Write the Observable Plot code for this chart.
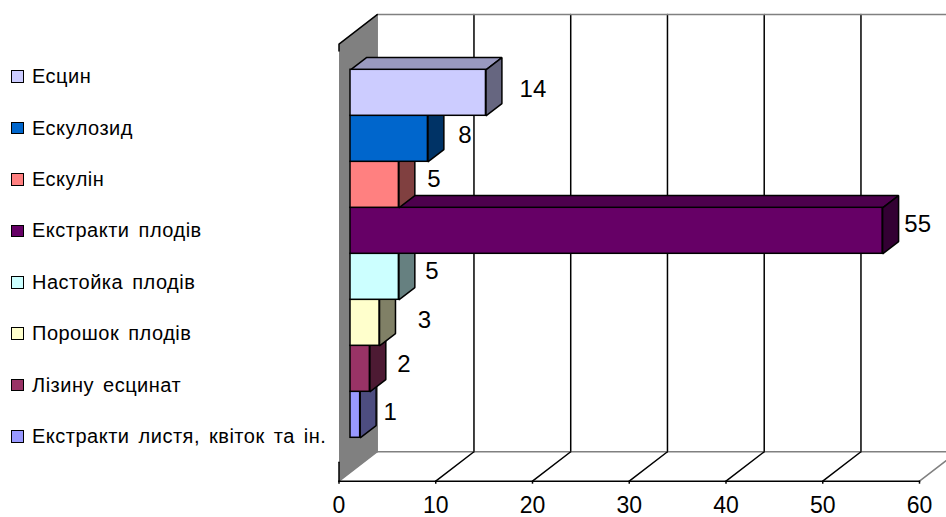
<!DOCTYPE html>
<html lang="uk">
<head>
<meta charset="utf-8">
<script src="https://cdn.jsdelivr.net/npm/d3@7"></script>
<script src="https://cdn.jsdelivr.net/npm/@observablehq/plot@0.6"></script>
<style>
  html, body { margin: 0; padding: 0; background: #fff; overflow: hidden; }
  #chart { position: relative; width: 946px; height: 517px; }
  #legend { position: absolute; left: 11px; top: 51px; font: 20px "Liberation Sans", Arial, sans-serif; letter-spacing: .5px; word-spacing: 3px; color: #000; }
  .row { display: flex; align-items: center; height: 51.4px; white-space: nowrap; }
  .sw { width: 10.5px; height: 10.5px; border: 1.6px solid #000; margin-right: 8.5px; flex: none; }
</style>
</head>
<body>
<div id="chart"><div id="legend"></div></div>
<script>
// Data (top of chart first)
const categories = ["Есцин", "Ескулозид", "Ескулін", "Екстракти плодів", "Настойка плодів", "Порошок плодів", "Лізину есцинат", "Екстракти листя, квіток та ін."];
const values = [14, 8, 5, 55, 5, 3, 2, 1];
const frontColors = ["#CCCCFF", "#0066CC", "#FF8080", "#660066", "#CCFFFF", "#FFFFCC", "#993366", "#9999FF"];
const sideColors  = ["#666680", "#003366", "#804040", "#330033", "#668080", "#808066", "#4D1A33", "#4D4D80"];
const topColors   = ["#9999BF", "#004D99", "#BF6060", "#4D004D", "#99BFBF", "#BFBF99", "#732640", "#7373BF"];
const xTicks = [0, 10, 20, 30, 40, 50, 60];

// Layout of the pseudo-3D box, in scale units
const slots = categories.length;
const floor = -0.9435, wallTop = 8.56;      // front floor and front top of the side wall
const boxDX = 3.95, boxDY = 0.64;           // box depth
const barDX = 1.65, barDY = 0.265;          // bar depth
const barShift = 11.5;                      // bars stand off the front edge (px)
const lw = 1.5;
// Hand placement of each value label relative to its bar end (px)
const labelNudge = [[47, -3], [37, -3], [35, -5], [35, -6], [33, -5], [45, -2], [34, -4], [30, -2]];

const poly = (pts, o) => Plot.line(pts, {x: "0", y: "1", curve: "linear-closed", ...o});
const seg = (pts, o) => Plot.line(pts, {x: "0", y: "1", strokeWidth: lw, ...o});

const marks = [];
// side wall
marks.push(poly([[0, floor], [boxDX, floor + boxDY], [boxDX, wallTop + boxDY], [0, wallTop]], {fill: "#808080", stroke: "none"}));
// back wall gridlines
for (const t of xTicks.slice(1)) marks.push(seg([[t + boxDX, floor + boxDY], [t + boxDX, wallTop + boxDY]], {stroke: "#000"}));
// back wall edges
marks.push(seg([[boxDX, floor + boxDY], [boxDX, wallTop + boxDY], [60 + boxDX, wallTop + boxDY]], {stroke: "#808080"}));
marks.push(seg([[boxDX, floor + boxDY], [60 + boxDX, floor + boxDY]], {stroke: "#808080"}));
// floor diagonals
for (const t of xTicks) marks.push(seg([[t, floor], [t + boxDX, floor + boxDY]], {stroke: t === 0 || t === 60 ? "#808080" : "#000"}));
// wall black ends
marks.push(seg([[0, floor], [0, floor + 0.41]], {stroke: "#000"}));
marks.push(seg([[0, wallTop - 0.15], [0, wallTop], [boxDX, wallTop + boxDY]], {stroke: "#000"}));
// floor front edge
marks.push(seg([[0, floor], [60, floor]], {stroke: "#000"}));

// bars, painted bottom to top
for (let i = slots - 1; i >= 0; i--) {
  const v = values[i], s = slots - 1 - i;
  const face = {stroke: "#000", strokeWidth: lw, dx: barShift, strokeLinejoin: "miter"};
  marks.push(poly([[0, s + 1], [barDX, s + 1 + barDY], [v + barDX, s + 1 + barDY], [v, s + 1]], {fill: topColors[i], ...face}));
  marks.push(poly([[v, s], [v + barDX, s + barDY], [v + barDX, s + 1 + barDY], [v, s + 1]], {fill: sideColors[i], ...face}));
  marks.push(Plot.rect([{v, s}], {x1: 0, x2: "v", y1: "s", y2: d => d.s + 1, fill: frontColors[i], inset: 0, ...face}));
}
// value labels
values.forEach((v, i) => {
  const s = slots - 1 - i;
  marks.push(Plot.text([{v, s}], {
    x: "v", y: d => d.s + 0.5, text: d => String(d.v),
    dx: barShift + labelNudge[i][0], dy: labelNudge[i][1],
    fontSize: 24, fill: "#000", textAnchor: "middle", fontFamily: "Liberation Sans"
  }));
});
// axis
marks.push(Plot.axisX({ticks: xTicks, tickSize: 3, tickPadding: 12, fontSize: 23, label: null, tickFormat: d => String(d), strokeWidth: lw, color: "#000", fontFamily: "Liberation Sans", anchor: "bottom"}));

const chart = Plot.plot({
  width: 946, height: 517,
  marginTop: 0, marginRight: 0, marginBottom: 36.3, marginLeft: 0,
  style: {background: "#fff", fontFamily: "Liberation Sans", color: "#000"},
  x: {domain: [0, 60], range: [338.5, 919], axis: null},
  y: {domain: [0, slots], range: [437.3, 69.3], axis: null},
  marks
});
const holder = document.getElementById("chart");
holder.insertBefore(chart, holder.firstChild);

// legend
const legend = d3.select("#legend");
categories.forEach((c, i) => {
  const r = legend.append("div").attr("class", "row");
  r.append("span").attr("class", "sw").style("background", frontColors[i]);
  r.append("span").text(c);
});
</script>
</body>
</html>
